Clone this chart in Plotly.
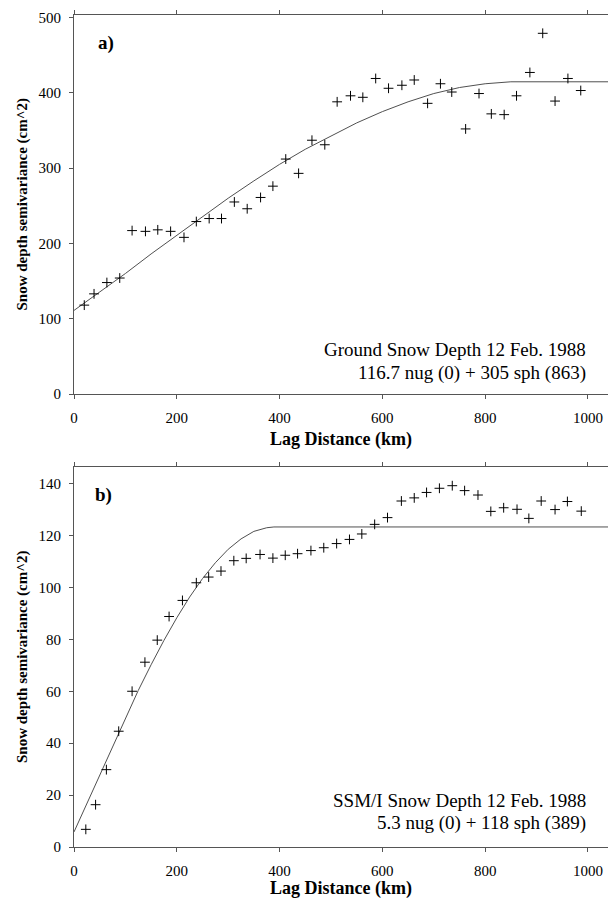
import plotly.graph_objects as go

# ---------------- data ----------------
# Panel a) ground snow depth semivariogram
lag_a = [20, 39, 64, 89, 113, 139, 163, 188, 214, 238, 263, 287, 312, 337, 363, 387,
         412, 437, 463, 488, 512, 538, 562, 587, 612, 638, 662, 688, 713, 735, 762, 788,
         812, 837, 861, 887, 912, 936, 961, 986]
gamma_a = [118, 133, 148, 154, 217, 216, 218, 216, 208, 229, 233, 233, 255, 246, 261, 276,
           312, 293, 337, 331, 388, 396, 394, 419, 406, 410, 417, 386, 412, 401, 352, 399,
           372, 371, 396, 427, 479, 389, 419, 403]
model_lag_a = [0, 50, 100, 150, 200, 250, 300, 350, 400, 450, 500, 550, 600, 650, 700,
               750, 800, 850, 1039]
model_gamma_a = [111, 135, 160, 186, 211, 236, 260, 283, 305, 325, 343, 360, 375, 388, 399,
                 407, 412, 414.6, 414.6]

# Panel b) SSM/I snow depth semivariogram
lag_b = [23, 42, 63, 87, 113, 138, 162, 185, 211, 238, 262, 286, 311, 335, 362, 387,
         411, 435, 461, 486, 511, 536, 560, 585, 610, 637, 662, 686, 711, 736, 760, 786,
         811, 836, 862, 885, 909, 936, 960, 987]
gamma_b = [6.8, 16.3, 29.8, 44.6, 60.0, 71.2, 79.7, 88.8, 95.0, 101.8, 104.0, 106.3, 110.3,
           111.2, 112.7, 111.3, 112.4, 113.0, 114.2, 115.3, 116.9, 118.5, 120.6, 124.3, 126.9,
           133.3, 134.5, 136.6, 138.2, 139.2, 137.3, 135.6, 129.3, 130.7, 130.1, 126.6, 133.3,
           130.0, 133.1, 129.4]
model_lag_b = [0, 25, 50, 75, 100, 125, 150, 175, 200, 225, 250, 275, 300, 325, 350, 375,
               389, 1039]
model_gamma_b = [5.8, 16.8, 27.9, 38.9, 49.8, 60.3, 70.2, 79.6, 88.3, 96.3, 103.4, 109.5,
                 114.7, 118.7, 121.6, 123.0, 123.3, 123.3]

x_ticks = [0, 200, 400, 600, 800, 1000]
y_ticks_a = [0, 100, 200, 300, 400, 500]
y_ticks_b = [0, 20, 40, 60, 80, 100, 120, 140]

# ---------------- figure ----------------
FONT = "Liberation Serif, Times New Roman, serif"
AX = "#555555"

fig = go.Figure()
marker = dict(symbol="cross-thin", size=7, line=dict(width=1, color="black"), color="black")

fig.add_trace(go.Scatter(x=model_lag_a, y=model_gamma_a, mode="lines",
                         line=dict(color="#505050", width=1), xaxis="x", yaxis="y",
                         showlegend=False, hoverinfo="skip"))
fig.add_trace(go.Scatter(x=lag_a, y=gamma_a, mode="markers", marker=marker,
                         xaxis="x", yaxis="y", showlegend=False))
fig.add_trace(go.Scatter(x=model_lag_b, y=model_gamma_b, mode="lines",
                         line=dict(color="#505050", width=1), xaxis="x2", yaxis="y2",
                         showlegend=False, hoverinfo="skip"))
fig.add_trace(go.Scatter(x=lag_b, y=gamma_b, mode="markers", marker=marker,
                         xaxis="x2", yaxis="y2", showlegend=False))

W, H = 608, 901
ML, MR, MT, MB = 74, 0, 15, 54
PW, PH = W - ML - MR, H - MT - MB


def py(p):  # pixel y -> paper y
    return (H - MB - p) / PH


def px(p):  # pixel x -> paper x
    return (p - ML) / PW


xcommon = dict(range=[0, 1039], tickvals=x_ticks, ticks="outside", ticklen=4, tickwidth=1,
               tickcolor=AX, showline=True, linecolor=AX, linewidth=1, mirror="ticks",
               showgrid=False, zeroline=False, tickfont=dict(family=FONT, size=15, color="black"),
               ticklabelstandoff=6, domain=[0, 1])
ycommon = dict(ticks="outside", ticklen=4, tickwidth=1, tickcolor=AX, showline=True,
               linecolor=AX, linewidth=1, mirror=False, showgrid=False, zeroline=False,
               tickfont=dict(family=FONT, size=15, color="black"), ticklabelstandoff=5)

fig.update_layout(
    width=W, height=H, margin=dict(l=ML, r=MR, t=MT, b=MB),
    paper_bgcolor="white", plot_bgcolor="white", showlegend=False,
    xaxis=dict(anchor="y", **xcommon),
    yaxis=dict(anchor="x", domain=[py(394), 1.0], range=[0, 503.3], tickvals=y_ticks_a, **ycommon),
    xaxis2=dict(anchor="y2", **xcommon),
    yaxis2=dict(anchor="x2", domain=[0, py(467)], range=[0, 146.4], tickvals=y_ticks_b, **ycommon),
)

ann = []
ytitle = "Snow depth semivariance (cm^2)"
for cy in (204.5, 657):
    ann.append(dict(text=ytitle, xref="paper", yref="paper", x=px(22), y=py(cy),
                    textangle=-90, showarrow=False, xanchor="center", yanchor="middle",
                    font=dict(family=FONT, size=15, color="black", weight="bold")))
for cy in (439, 888):
    ann.append(dict(text="Lag Distance (km)", xref="paper", yref="paper", x=px(341), y=py(cy),
                    showarrow=False, xanchor="center", yanchor="middle",
                    font=dict(family=FONT, size=18, color="black", weight="bold")))
for lbl, cy, lx in (("a)", 43, 96), ("b)", 495, 93)):
    ann.append(dict(text=lbl, xref="paper", yref="paper", x=px(lx), y=py(cy),
                    showarrow=False, xanchor="left", yanchor="middle",
                    font=dict(family=FONT, size=19, color="black", weight="bold")))
notes = [("Ground Snow Depth 12 Feb. 1988", 350), ("116.7 nug (0) + 305 sph (863)", 373),
         ("SSM/I Snow Depth 12 Feb. 1988", 800), ("5.3 nug (0) + 118 sph (389)", 823)]
for txt, cy in notes:
    ann.append(dict(text=txt, xref="paper", yref="paper", x=px(588), y=py(cy),
                    showarrow=False, xanchor="right", yanchor="middle",
                    font=dict(family=FONT, size=19, color="black")))
fig.update_layout(annotations=ann)

fig.write_html("out.html", config={"displayModeBar": False},
               post_script="document.body.style.margin='0px';")
